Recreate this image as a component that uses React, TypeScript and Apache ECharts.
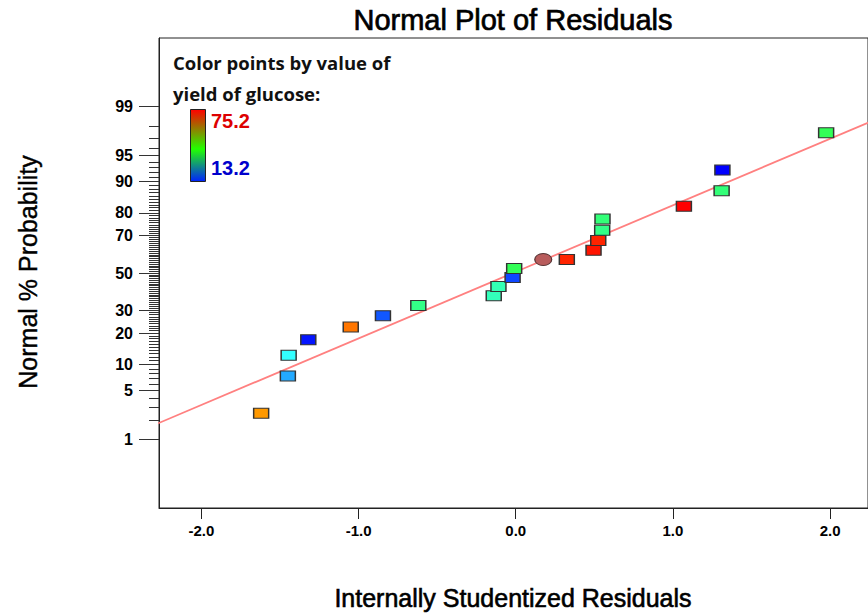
import React, { useEffect, useRef } from "react";
import * as echarts from "echarts";

// ---- data ----
const residuals = [-1.62, -1.45, -1.445, -1.32, -1.05, -0.845, -0.62, -0.14, -0.11, -0.02, -0.01, 0.325, 0.495, 0.525, 0.55, 0.552, 1.07, 1.31, 1.315, 1.975];
const probabilities = [2.5, 7.5, 12.5, 17.5, 22.5, 27.5, 32.5, 37.5, 42.5, 47.5, 52.5, 57.5, 62.5, 67.5, 72.5, 77.5, 82.5, 87.5, 92.5, 97.5];
const yields = [65.9, 23.5, 28.7, 14.5, 68, 18.5, 39.6, 35, 35.5, 17.5, 44, 73, 74, 73, 39.6, 41, 75.2, 41, 13.2, 44];
const centerResidual = [0.175];
const centerProbability = [57.5];
const fitResidual = [-2.3, 2.3];
const fitProbability = [1.68, 98.45];
const majorPct = [1, 5, 10, 20, 30, 50, 70, 80, 90, 95, 99];
const minorPct = Array.from({ length: 99 }, (_, i) => i + 1);
const xTicks = [-2, -1, 0, 1, 2];
const yieldMin = 13.2;
const yieldMax = 75.2;

// inverse standard normal CDF (Acklam) – axis transform for the probability scale
function probit(p: number): number {
  const a = [-3.969683028665376e1, 2.209460984245205e2, -2.759285104469687e2, 1.38357751867269e2, -3.066479806614716e1, 2.506628277459239];
  const b = [-5.447609879822406e1, 1.615858368580409e2, -1.556989798598866e2, 6.680131188771972e1, -1.328068155288572e1];
  const c = [-7.784894002430293e-3, -3.223964580411365e-1, -2.400758277161838, -2.549732539343734, 4.374664141464968, 2.938163982698783];
  const d = [7.784695709041462e-3, 3.224671290700398e-1, 2.445134137142996, 3.754408661907416];
  const plow = 0.02425;
  const phigh = 1 - plow;
  if (p < plow) {
    const q = Math.sqrt(-2 * Math.log(p));
    return (((((c[0] * q + c[1]) * q + c[2]) * q + c[3]) * q + c[4]) * q + c[5]) / ((((d[0] * q + d[1]) * q + d[2]) * q + d[3]) * q + 1);
  }
  if (p <= phigh) {
    const q = p - 0.5;
    const r = q * q;
    return ((((((a[0] * r + a[1]) * r + a[2]) * r + a[3]) * r + a[4]) * r + a[5]) * q) / (((((b[0] * r + b[1]) * r + b[2]) * r + b[3]) * r + b[4]) * r + 1);
  }
  const q = Math.sqrt(-2 * Math.log(1 - p));
  return -(((((c[0] * q + c[1]) * q + c[2]) * q + c[3]) * q + c[4]) * q + c[5]) / ((((d[0] * q + d[1]) * q + d[2]) * q + d[3]) * q + 1);
}
const z = (pct: number) => probit(pct / 100);

const GRID_LEFT = 159;
const GRID_TOP = 38;
const GRID_W = 711;
const GRID_H = 470;
const X_MIN = -2.27;
const X_MAX = X_MIN + GRID_W / 157.6;
const Y_HALF = GRID_H / 71.5 / 2;

const tickFont = "'Liberation Sans Narrow', 'Arial Narrow', 'Liberation Sans', Arial, sans-serif";
const mainFont = "'Liberation Sans', Arial, sans-serif";
const legendFont = "'Open Sans', 'Noto Sans', sans-serif";

export default function App() {
  const ref = useRef<HTMLDivElement>(null);
  useEffect(() => {
    if (!ref.current) return;
    const chart = echarts.init(ref.current, undefined, { renderer: "svg" });
    const majorZ = majorPct.map(z);
    const minorZ = minorPct.map(z);
    const labelFor = (v: number) => {
      let best = majorPct[0];
      let bd = Infinity;
      majorPct.forEach((p) => {
        const dd = Math.abs(z(p) - v);
        if (dd < bd) { bd = dd; best = p; }
      });
      return String(best);
    };
    const points = residuals.map((r, i) => [r, z(probabilities[i]), yields[i]]);
    const center = centerResidual.map((r, i) => [r, z(centerProbability[i])]);
    const fit = fitResidual.map((r, i) => [r, z(fitProbability[i])]);

    chart.setOption({
      animation: false,
      backgroundColor: "#ffffff",
      grid: {
        left: GRID_LEFT,
        top: GRID_TOP,
        width: GRID_W,
        height: GRID_H,
        show: true,
        borderColor: "#222",
        borderWidth: 1,
        backgroundColor: "transparent",
      },
      xAxis: {
        type: "value",
        min: X_MIN,
        max: X_MAX,
        axisLine: { show: true, onZero: false, lineStyle: { color: "#222", width: 1 } },
        axisTick: { show: true, length: 11, customValues: xTicks, lineStyle: { color: "#222" } },
        axisLabel: {
          customValues: xTicks,
          formatter: (v: number) => v.toFixed(1),
          margin: 15,
          fontFamily: tickFont,
          fontWeight: "bold",
          fontSize: 15,
          color: "#000",
        },
        splitLine: { show: false },
      },
      yAxis: [
        {
          type: "value",
          min: -Y_HALF,
          max: Y_HALF,
          position: "left",
          axisLine: { show: true, onZero: false, lineStyle: { color: "#222", width: 1 } },
          axisTick: { show: true, length: 20, customValues: majorZ, lineStyle: { color: "#333" } },
          axisLabel: {
            customValues: majorZ,
            formatter: (v: number) => labelFor(v),
            margin: 26,
            fontFamily: tickFont,
            fontWeight: "bold",
            fontSize: 16,
            color: "#000",
          },
          splitLine: { show: false },
        },
        {
          type: "value",
          min: -Y_HALF,
          max: Y_HALF,
          position: "left",
          axisLine: { show: false, onZero: false },
          axisTick: { show: true, length: 10, customValues: minorZ, lineStyle: { color: "#333" } },
          axisLabel: { show: false },
          splitLine: { show: false },
        },
      ],
      visualMap: {
        type: "continuous",
        show: false,
        min: yieldMin,
        max: yieldMax,
        dimension: 2,
        seriesIndex: 0,
        inRange: { color: ["#0000ff", "#33ffff", "#33ff55", "#ffff00", "#ff0000"] },
      },
      series: [
        {
          type: "scatter",
          data: points,
          symbol: "rect",
          symbolSize: [15, 10],
          itemStyle: { borderColor: "#333", borderWidth: 1.2, opacity: 1 },
          z: 3,
        },
        {
          type: "scatter",
          data: center,
          symbol:
            "path://M0,0.5 C0,0.224 0.224,0 0.5,0 C0.776,0 1,0.224 1,0.5 C1,0.776 0.776,1 0.5,1 C0.224,1 0,0.776 0,0.5 Z",
          symbolSize: [17, 12],
          itemStyle: { color: "#b85c5c", borderColor: "#553333", borderWidth: 1, opacity: 1 },
          z: 3,
        },
        {
          type: "line",
          data: fit,
          symbol: "none",
          lineStyle: { color: "#ff8080", width: 1.8 },
          clip: true,
          z: 2,
        },
      ],
      graphic: [
        {
          type: "text",
          x: 513,
          y: 20,
          style: { text: "Normal Plot of Residuals", fontFamily: mainFont, fontSize: 29, fill: "#000", stroke: "#000", lineWidth: 0.7, textAlign: "center", textVerticalAlign: "middle" },
        },
        {
          type: "text",
          x: 513,
          y: 598,
          style: { text: "Internally Studentized Residuals", fontFamily: mainFont, fontSize: 25, fill: "#000", stroke: "#000", lineWidth: 0.6, textAlign: "center", textVerticalAlign: "middle" },
        },
        {
          type: "text",
          x: 28,
          y: 272,
          rotation: Math.PI / 2,
          style: { text: "Normal % Probability", fontFamily: mainFont, fontSize: 25, fill: "#000", stroke: "#000", lineWidth: 0.4, textAlign: "center", textVerticalAlign: "middle" },
        },
        {
          type: "text",
          x: 173,
          y: 62,
          style: { text: "Color points by value of", fontFamily: legendFont, fontWeight: "bold", fontSize: 18.5, fill: "#111", textVerticalAlign: "middle" },
        },
        {
          type: "text",
          x: 173,
          y: 93,
          style: { text: "yield of glucose:", fontFamily: legendFont, fontWeight: "bold", fontSize: 18.5, fill: "#111", textVerticalAlign: "middle" },
        },
        {
          type: "rect",
          shape: { x: 190.5, y: 109.5, width: 15, height: 72 },
          style: {
            fill: new echarts.graphic.LinearGradient(0, 0, 0, 1, [
              { offset: 0, color: "#ff0000" },
              { offset: 0.55, color: "#22ff00" },
              { offset: 1, color: "#0022ff" },
            ]),
            stroke: "#222",
            lineWidth: 1,
          },
        },
        {
          type: "text",
          x: 211,
          y: 121,
          style: { text: String(yieldMax), fontFamily: mainFont, fontWeight: "bold", fontSize: 20, fill: "#dd0000", textVerticalAlign: "middle" },
        },
        {
          type: "text",
          x: 211,
          y: 168,
          style: { text: String(yieldMin), fontFamily: mainFont, fontWeight: "bold", fontSize: 20, fill: "#0000cc", textVerticalAlign: "middle" },
        },
      ],
    });
    return () => chart.dispose();
  }, []);
  return <div ref={ref} style={{ position: "absolute", left: 0, top: 0, width: 868, height: 614, background: "#fff" }} />;
}
